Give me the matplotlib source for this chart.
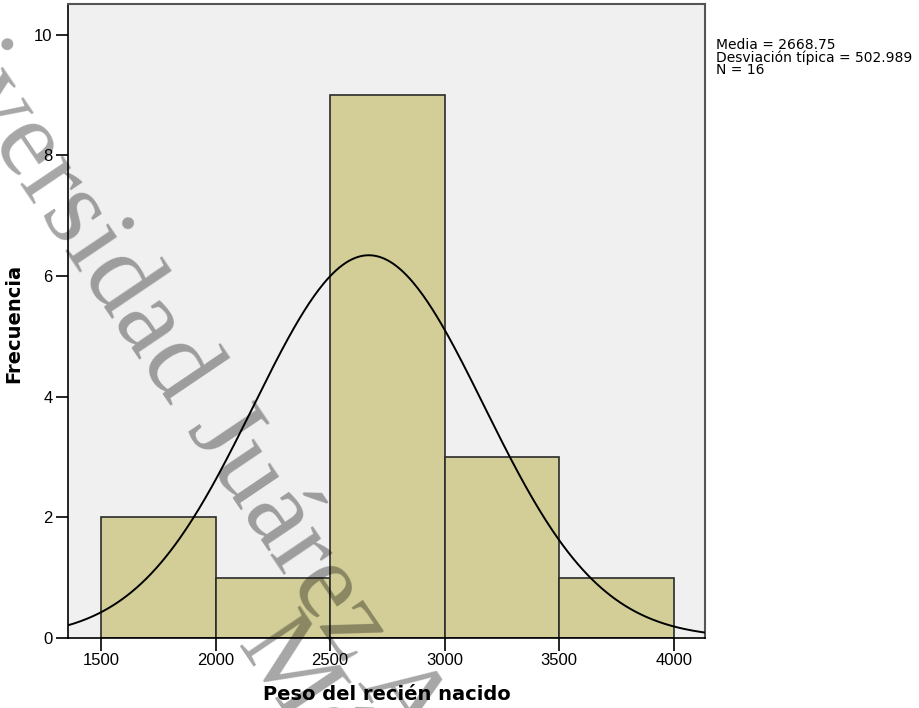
import numpy as np
import matplotlib
matplotlib.use("Agg")
import matplotlib.pyplot as plt

# Histogram data
bin_edges = [1500, 2000, 2500, 3000, 3500, 4000]
counts = [2, 1, 9, 3, 1]

media = 2668.75
desv = 502.989
n = 16

x_ticks = [1500, 2000, 2500, 3000, 3500, 4000]
y_ticks = [0, 2, 4, 6, 8, 10]

fig = plt.figure(figsize=(9.2, 7.08), dpi=100)
ax = fig.add_axes([68 / 920, 1 - 638 / 708, (705 - 68) / 920, (638 - 4) / 708])
ax.set_facecolor("#f0f0f0")

widths = np.diff(bin_edges)
ax.bar(bin_edges[:-1], counts, width=widths, align="edge",
       color="#d3ce97", edgecolor="#2b2b2b", linewidth=1.2, zorder=2)

# normal curve from mean / sd
ax.set_xlim(1356, 4136)
ax.set_ylim(0, 10.51)
xs = np.linspace(1356, 4136, 400)
bw = widths[0]
ys = n * bw / (desv * np.sqrt(2 * np.pi)) * np.exp(-0.5 * ((xs - media) / desv) ** 2)
ax.plot(xs, ys, color="black", linewidth=1.4, zorder=3)

ax.set_xticks(x_ticks)
ax.set_yticks(y_ticks)
ax.tick_params(direction="out", length=9, width=1.2, colors="black",
               labelsize=12, pad=2)
for lab in ax.get_xticklabels() + ax.get_yticklabels():
    lab.set_family("Liberation Sans")
for s in ["left", "bottom"]:
    ax.spines[s].set_color("black")
    ax.spines[s].set_linewidth(1.2)
for s in ["top", "right"]:
    ax.spines[s].set_color("#555555")
    ax.spines[s].set_linewidth(1.5)

fig.text(387 / 920, 1 - 695 / 708, "Peso del recién nacido", ha="center", va="center",
         fontsize=14, fontweight="bold")
fig.text(14 / 920, 1 - 323 / 708, "Frecuencia", ha="center", va="center",
         rotation=90, fontsize=14, fontweight="bold")

fig.text(716 / 920, 1 - 38 / 708,
         f"Media = {media}\nDesviación típica = {desv}\nN = {n}",
         ha="left", va="top", fontsize=10, linespacing=0.85)

# watermark
fig.text(-133 / 920, 1 + 44 / 708, "Universidad Juárez Autónoma de Tabasco",
         family="Liberation Serif", fontsize=80, color="black", alpha=0.35,
         rotation=-56, rotation_mode="anchor", ha="left", va="baseline")
fig.text(236 / 920, 1 - 645 / 708, "México",
         family="Liberation Serif", fontsize=80, color="black", alpha=0.35,
         rotation=-56, rotation_mode="anchor", ha="left", va="baseline")

fig.savefig("out.png", dpi=100)
